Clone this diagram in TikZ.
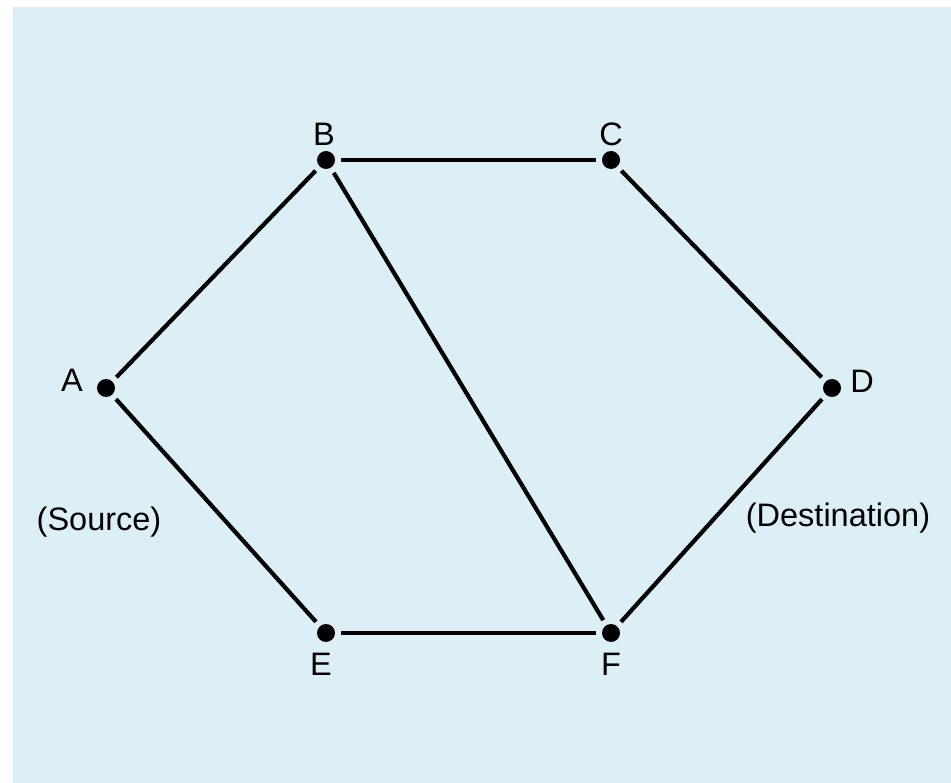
\documentclass[tikz,border=0pt]{standalone}
\usepackage{fontspec}
\setmainfont{Liberation Sans}
\usetikzlibrary{positioning}
\definecolor{paleblue}{RGB}{220,239,246}
\begin{document}
\begin{tikzpicture}[x=1pt, y=-1pt,
    vertex/.style={circle, fill=black, minimum size=18pt, inner sep=0pt, outer sep=6pt},
    vlabel/.style={font=\fontsize{32.5}{38}\selectfont, inner sep=0pt},
    edge/.style={line width=4.2pt}]
    \useasboundingbox (0,0) rectangle (951,783);
    \fill[paleblue] (13,7) rectangle (951,783);
    % vertices
    \node[vertex] (a) at (106,388) {};
    \node[vertex] (b) at (326,160) {};
    \node[vertex] (c) at (611,160) {};
    \node[vertex] (d) at (832,388) {};
    \node[vertex] (e) at (326,633) {};
    \node[vertex] (f) at (611,633) {};
    % labels
    \node[vlabel] (la) at (72,380) {A};
    \node[vlabel] (lb) at (324,134) {B};
    \node[vlabel] (lc) at (611,134) {C};
    \node[vlabel] (ld) at (862,381) {D};
    \node[vlabel] (le) at (321,664) {E};
    \node[vlabel] (lf) at (611,664) {F};
    \node[vlabel] (src) at (99,522) {(Source)};
    \node[vlabel] (dst) at (838,518) {(Destination)};
    % edges
    \draw[edge] (a) -- (b);
    \draw[edge] (b) -- (c);
    \draw[edge] (c) -- (d);
    \draw[edge] (a) -- (e);
    \draw[edge] (e) -- (f);
    \draw[edge] (f) -- (d);
    \draw[edge] (b) -- (f);
\end{tikzpicture}
\end{document}
